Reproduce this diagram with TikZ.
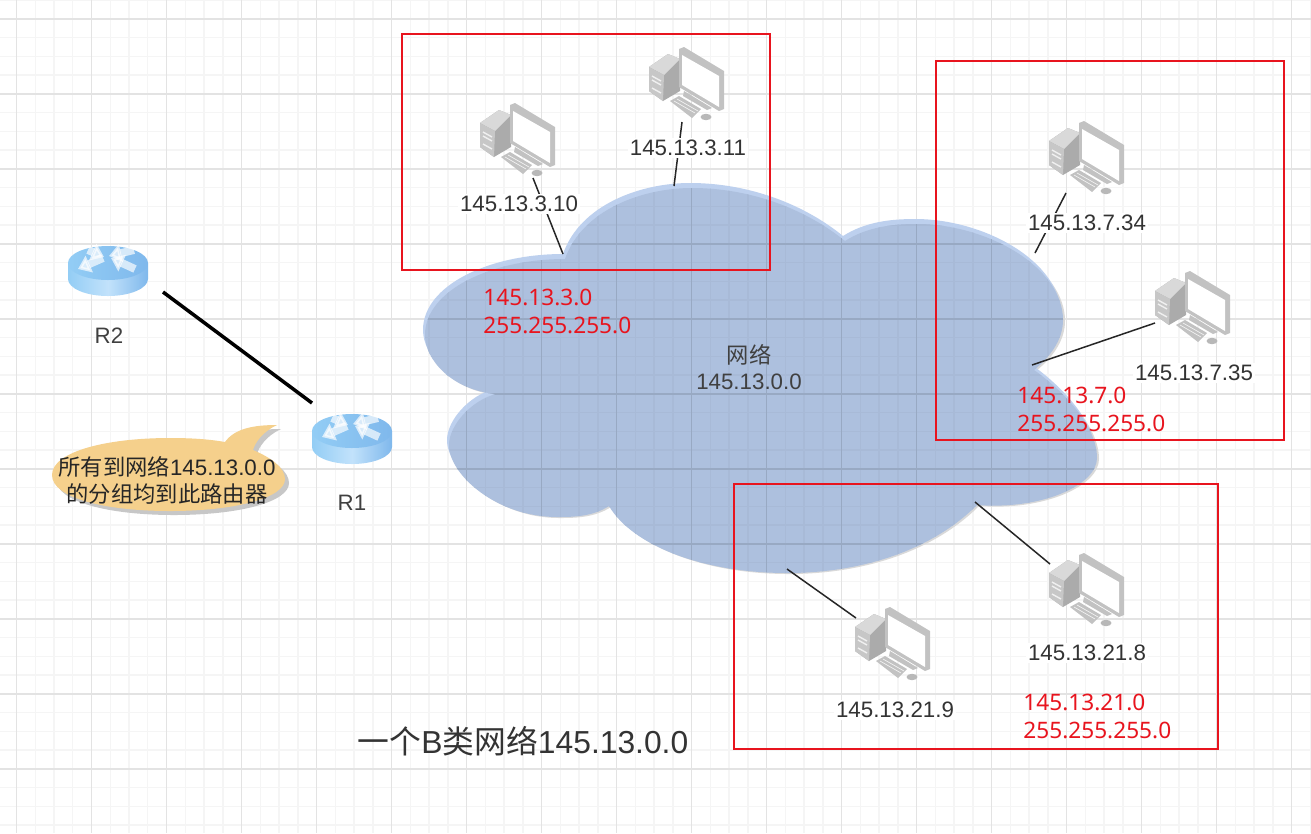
\documentclass[tikz,border=0pt]{standalone}
\usepackage{fontspec}
\setmainfont{Liberation Sans}
\newfontfamily\cjk{Noto Sans CJK SC}
\newfontfamily\netfont{Noto Sans}
\usetikzlibrary{arrows.meta}
\definecolor{gridmajor}{HTML}{E3E3E3}
\definecolor{gridminor}{HTML}{F5F5F5}
\definecolor{cloudrim}{HTML}{BDD0EE}
\definecolor{cloudfill}{HTML}{ADC0DE}
\definecolor{boxred}{HTML}{E8141E}
\definecolor{routerleft}{HTML}{93CDF5}
\definecolor{routermid}{HTML}{C2E2FB}
\definecolor{routerright}{HTML}{7FB8EC}
\definecolor{bubblefill}{HTML}{F5D08C}
\newcommand{\cloudpath}{(563,254) .. controls (580,205) and (640,183) .. (690,183)
  .. controls (750,183) and (805,205) .. (843,236)
  .. controls (865,222) and (890,219) .. (915,219)
  .. controls (985,219) and (1061,262) .. (1061,315)
  .. controls (1061,335) and (1048,352) .. (1032,365)
  .. controls (1060,385) and (1095,420) .. (1095,453)
  .. controls (1095,480) and (1040,505) .. (975,500)
  .. controls (930,545) and (860,568) .. (785,568)
  .. controls (700,568) and (630,540) .. (607,501)
  .. controls (590,512) and (570,512) .. (555,512)
  .. controls (495,512) and (447,470) .. (447,440)
  .. controls (447,420) and (470,395) .. (494,389)
  .. controls (450,385) and (423,355) .. (423,330)
  .. controls (423,285) and (490,254) .. (563,254) -- cycle}
\newcommand{\bubblepath}{(225,442) .. controls (235,428) and (255,425) .. (277,425)
  .. controls (262,432) and (255,443) .. (253,450)
  .. controls (272,458) and (285,468) .. (285,479)
  .. controls (285,498) and (235,511) .. (170,511)
  .. controls (105,511) and (52,498) .. (52,475)
  .. controls (52,452) and (105,438) .. (170,438)
  .. controls (190,438) and (208,439) .. (225,442) -- cycle}
\newcommand{\gridlines}[2]{%
  \foreach \i in {0,...,70} {
    \draw[#2,line width=0.85pt] ({-2.25+18.75*\i},0)--({-2.25+18.75*\i},833);
    \draw[#2,line width=0.85pt] (0,{0+18.75*\i})--(1311,{0+18.75*\i});
  }
  \foreach \i in {0,...,17} {
    \draw[#1,line width=0.85pt] ({16.5+75*\i},0)--({16.5+75*\i},833);
    \draw[#1,line width=0.85pt] (0,{18.75+75*\i})--(1311,{18.75+75*\i});
  }}
\tikzset{
  iplabel/.style={fill=white,inner sep=1pt,text=black!80,font=\fontsize{12.7}{15}\selectfont},
  namelabel/.style={inner sep=1pt,text=black!75,font=\fontsize{12.7}{15}\selectfont},
  netlabel/.style={anchor=west,align=left,inner sep=0pt,text=boxred,font=\netfont\fontsize{12.9}{15.9}\selectfont},
  link/.style={line width=0.85pt,black!85},
  redbox/.style={draw=boxred,line width=0.9pt},
  computer/.pic={
    \fill[black!33] (-37,-18)--(-18,-31)--(-6,-26)--(-6,6)--(-23,16)--(-37,6)--cycle;
    \fill[black!15] (-37,-18)--(-18,-31)--(-6,-26)--(-22,-10)--cycle;
    \fill[black!22] (-37,-18)--(-22,-10)--(-23,16)--(-37,6)--cycle;
    \draw[black!6,line width=0.8pt] (-34,-9)--(-25,-4) (-34,-5)--(-25,0) (-34,3)--(-25,8);
    \fill[black!24] (-7,-36)--(-2,-38)--(38,-14)--(38,24)--(33,26)--(-7,2)--cycle;
    \fill[white] (-4,-30)--(33,-9)--(33,22)--(-4,0)--cycle;
    \fill[black!24] (-2,6)--(26,23)--(21,25)--(-3,11)--cycle;
    \fill[black!24] (-16,16)--(-7,11)--(15,24)--(6,33)--cycle;
    \draw[white,line width=0.3pt] (-12,16)--(9,28) (-9,14)--(12,26);
    \fill[black!28] (20,32) ellipse [x radius=5.5,y radius=3.2];
    \coordinate (-mouse) at (16,37);
    \coordinate (-foot) at (-4,37);
    \coordinate (-corner) at (-20,34);
    \coordinate (-side) at (-37,14);
    \coordinate (-top) at (-36,-27);
  },
  router/.pic={
    \shade[left color=routerleft,right color=routerright,middle color=routermid]
      (-40,-9)--(-40,7) arc[start angle=180,end angle=0,x radius=40,y radius=17]--(40,-9)--cycle;
    \shade[left color=routerleft,right color=routerright] (0,-9) ellipse [x radius=40,y radius=17];
    \foreach \a/\b/\c/\d in {-5/-14/-30/-3,-20/-22/-4/-15,26/-22/1/-16,27/-3/3/-14}
      \draw[white,opacity=0.68,line width=4.5pt,-{Triangle[width=10pt,length=7pt]}] (\a,\b)--(\c,\d);
    \coordinate (-se) at (55,20);
    \coordinate (-nw) at (-40,-37);
  }
}
\begin{document}
\begin{tikzpicture}[x=0.02cm,y=-0.02cm]
  \useasboundingbox (0,0) rectangle (1311,833);
  \fill[white] (0,0) rectangle (1311,833);
  % grid
  \gridlines{gridmajor}{gridminor}
  % cloud
  \fill[black!15,xshift=0.08cm,yshift=-0.12cm] \cloudpath;
  \fill[cloudrim] \cloudpath;
  \fill[cloudfill,xshift=0.04cm,yshift=-0.1cm] \cloudpath;
  \begin{scope}
    \clip[xshift=0.04cm,yshift=-0.1cm] \cloudpath;
    \gridlines{black!12!cloudfill}{black!3!cloudfill}
  \end{scope}
  \node[namelabel,align=center] (net) at (749,367) {{\cjk 网络}\\145.13.0.0};
  % cloud side of the links
  \coordinate (cta) at (563,254);
  \coordinate (ctb) at (674,186);
  \coordinate (rta) at (1035,253);
  \coordinate (rtb) at (1032,365);
  \coordinate (bta) at (975,502);
  \coordinate (btb) at (787,569);
  % computers
  \pic (pca) at (517,141) {computer};
  \pic (pcb) at (686,85) {computer};
  \pic (pcc) at (1086,159) {computer};
  \pic (pcd) at (1192,309) {computer};
  \pic (pce) at (1086,591) {computer};
  \pic (pcf) at (892,645) {computer};
  \draw[link] (cta)--(pca-mouse);
  \draw[link] (ctb)--(pcb-foot);
  \draw[link] (rta)--(pcc-corner);
  \draw[link] (rtb)--(pcd-side);
  \draw[link] (bta)--(pce-top);
  \draw[link] (btb)--(pcf-top);
  \node[iplabel] (ipa) at (519,204) {145.13.3.10};
  \node[iplabel] (ipb) at (688,148) {145.13.3.11};
  \node[iplabel] (ipc) at (1087,223) {145.13.7.34};
  \node[iplabel] (ipd) at (1194,373) {145.13.7.35};
  \node[iplabel] (ipe) at (1087,653) {145.13.21.8};
  \node[iplabel] (ipf) at (895,710) {145.13.21.9};
  % routers
  \pic (rb) at (108,272) {router};
  \pic (ra) at (352,440) {router};
  \draw[line width=2pt] (rb-se)--(ra-nw);
  \node[namelabel] (rbname) at (109,336) {R2};
  \node[namelabel] (raname) at (352,503) {R1};
  % bubble
  \fill[black!22,xshift=0.08cm,yshift=-0.08cm] \bubblepath;
  \fill[bubblefill] \bubblepath;
  \node[namelabel,text=black!85,align=center,font=\fontsize{12.7}{15.3}\selectfont] (note) at (167,480)
    {{\cjk 所有到网络}145.13.0.0\\{\cjk 的分组均到此路由器}};
  % subnets
  \draw[redbox] (402,34) rectangle (770,270);
  \draw[redbox] (936,61) rectangle (1284,440);
  \draw[redbox] (734,484) rectangle (1218,749);
  \node[netlabel] (suba) at (483,311) {145.13.3.0\\255.255.255.0};
  \node[netlabel] (subb) at (1017,409) {145.13.7.0\\255.255.255.0};
  \node[netlabel] (subc) at (1023,716) {145.13.21.0\\255.255.255.0};
  % caption
  \node[inner sep=0pt,text=black!80,font=\fontsize{18.1}{22}\selectfont] (title) at (523,741) {{\cjk 一个}B{\cjk 类网络}145.13.0.0};
\end{tikzpicture}
\end{document}
